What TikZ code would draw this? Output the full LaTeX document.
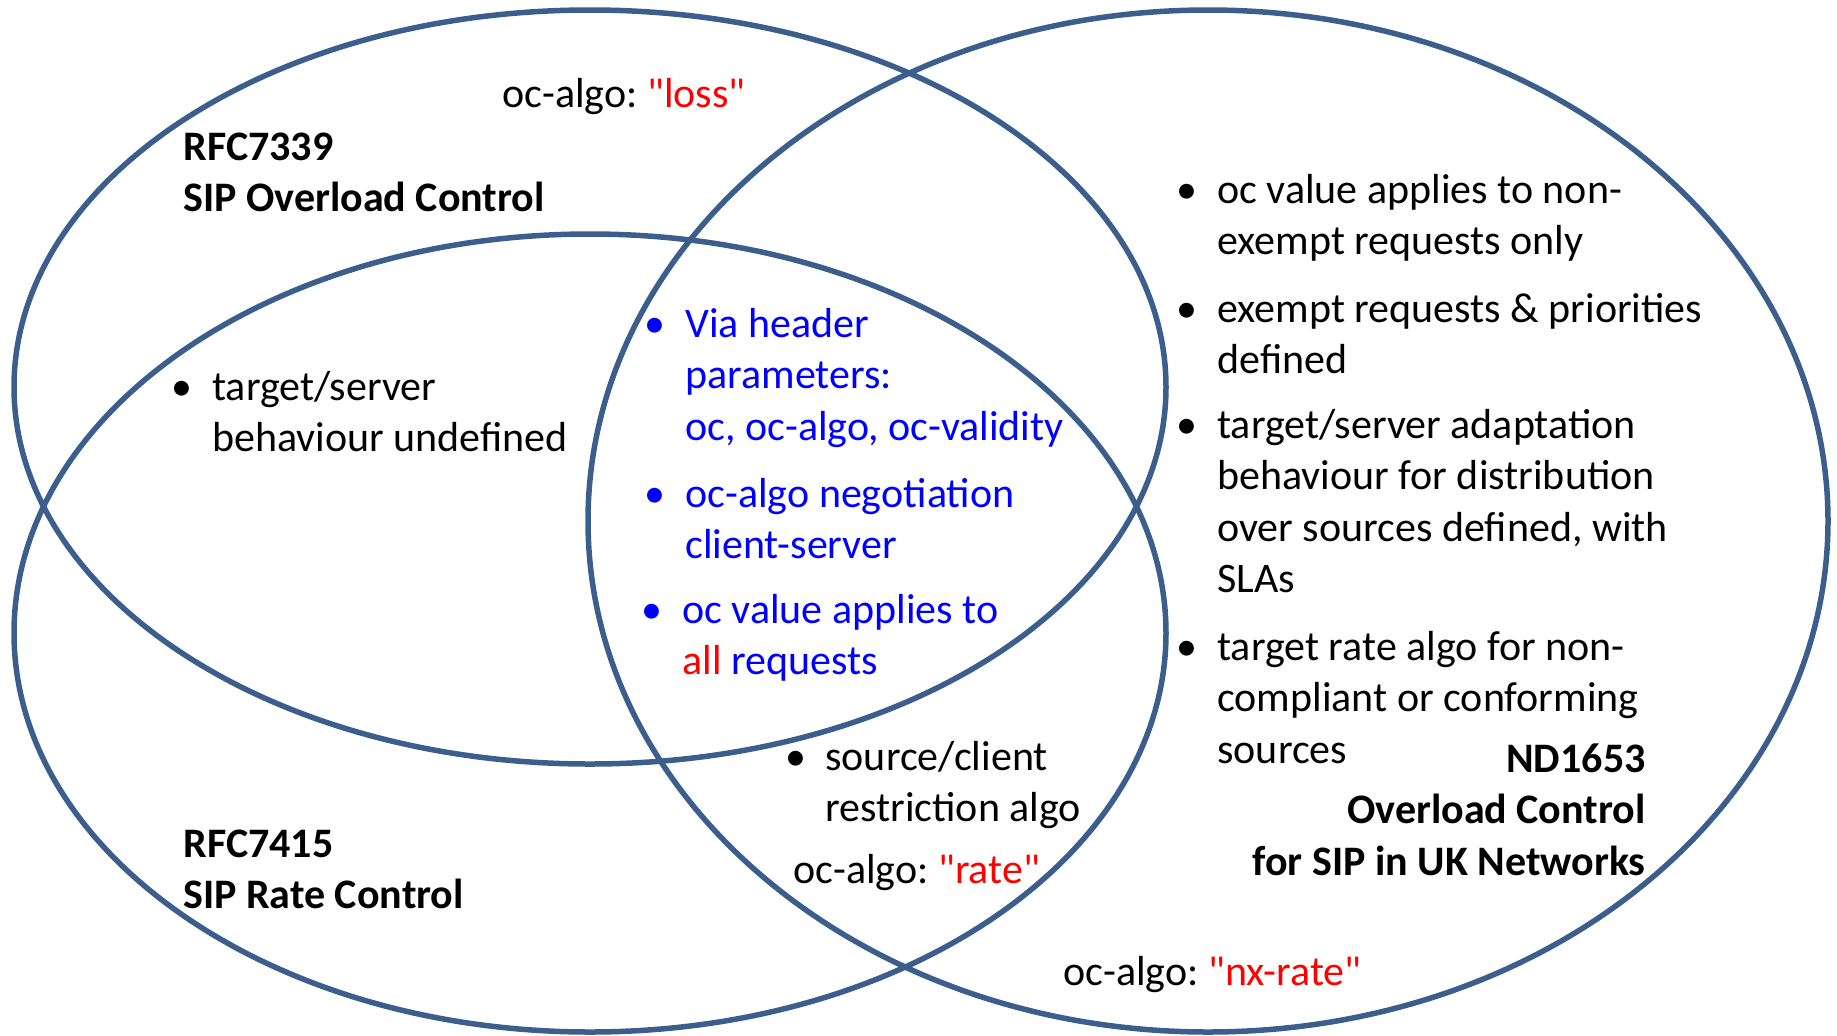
\documentclass[tikz,border=0pt]{standalone}
\usepackage{fontspec}
\setmainfont{Carlito}[Ligatures=TeXOff]
\frenchspacing
\definecolor{venn}{HTML}{3B5E8C}
\definecolor{tblue}{RGB}{0,0,255}
\definecolor{tred}{RGB}{255,0,0}
\newcommand\mylines[1]{\parbox[t]{12cm}{\raggedright #1}}
\newcommand\mylinesR[1]{\parbox[t]{12cm}{\raggedleft #1}}
\begin{document}
\begin{tikzpicture}[x=0.5pt,y=-0.5pt,
  ring/.style={draw=venn,line width=2.75pt},
  txt/.style={anchor=base west,inner sep=0pt,font=\fontsize{21}{25.75}\selectfont\frenchspacing},
  txtr/.style={anchor=base east,inner sep=0pt,font=\fontsize{21}{25.75}\selectfont\bfseries},
  bul/.style={anchor=base,inner sep=0pt,font=\fontsize{21}{25.75}\selectfont}]
\useasboundingbox (0,0) rectangle (1837,1035);
% circles
\draw[ring] (590,387) ellipse [x radius=288pt, y radius=188.5pt];
\draw[ring] (590,633) ellipse [x radius=288pt, y radius=199.5pt];
\draw[ring] (1208,521) ellipse [x radius=310pt, y radius=255.5pt];
% RFC7339
\node[txt] (loss) at (502,107) {oc-algo: \textcolor{tred}{"loss"}};
\node[txt,font=\fontsize{21}{25.75}\selectfont\bfseries] (rfc7339) at (183,160) {\mylines{RFC7339\\SIP Overload Control}};
\node[bul] (b1) at (182,400) {•};
\node[txt] (t1) at (212,400) {\mylines{target/server\\behaviour undefined}};
% common
\node[bul,text=tblue] (b2) at (655,337) {•};
\node[txt,text=tblue] (t2) at (685,337) {\mylines{Via header\\parameters:\\oc, oc-algo, oc-validity}};
\node[bul,text=tblue] (b3) at (655,507) {•};
\node[txt,text=tblue] (t3) at (685,507) {\mylines{oc-algo negotiation\\client-server}};
\node[bul,text=tblue] (b4) at (652,623) {•};
\node[txt,text=tblue] (t4) at (682,623) {\mylines{oc value applies to\\\textcolor{tred}{all} requests}};
% RFC7415
\node[bul] (b5) at (796,770) {•};
\node[txt] (t5) at (825,770) {\mylines{source/client\\restriction algo}};
\node[txt] (rate) at (793,883) {oc-algo: \textcolor{tred}{"rate"}};
\node[txt,font=\fontsize{21}{25.75}\selectfont\bfseries] (rfc7415) at (183,857) {\mylines{RFC7415\\SIP Rate Control}};
% ND1653
\node[bul] (b6) at (1187,203) {•};
\node[txt] (t6) at (1217,203) {\mylines{oc value applies to non-\\exempt requests only}};
\node[bul] (b7) at (1187,322) {•};
\node[txt] (t7) at (1217,322) {\mylines{exempt requests \& priorities\\defined}};
\node[bul] (b8) at (1187,438) {•};
\node[txt] (t8) at (1217,438) {\mylines{target/server adaptation\\behaviour for distribution\\over sources defined, with\\SLAs}};
\node[bul] (b9) at (1187,660) {•};
\node[txt] (t9) at (1217,660) {\mylines{target rate algo for non-\\compliant or conforming\\sources}};
\node[txtr] (nd) at (1646,772) {\mylinesR{ND1653\\Overload Control\\for SIP in UK Networks}};
\node[txt] (nx) at (1063,985) {oc-algo: \textcolor{tred}{"nx-rate"}};
\end{tikzpicture}
\end{document}
